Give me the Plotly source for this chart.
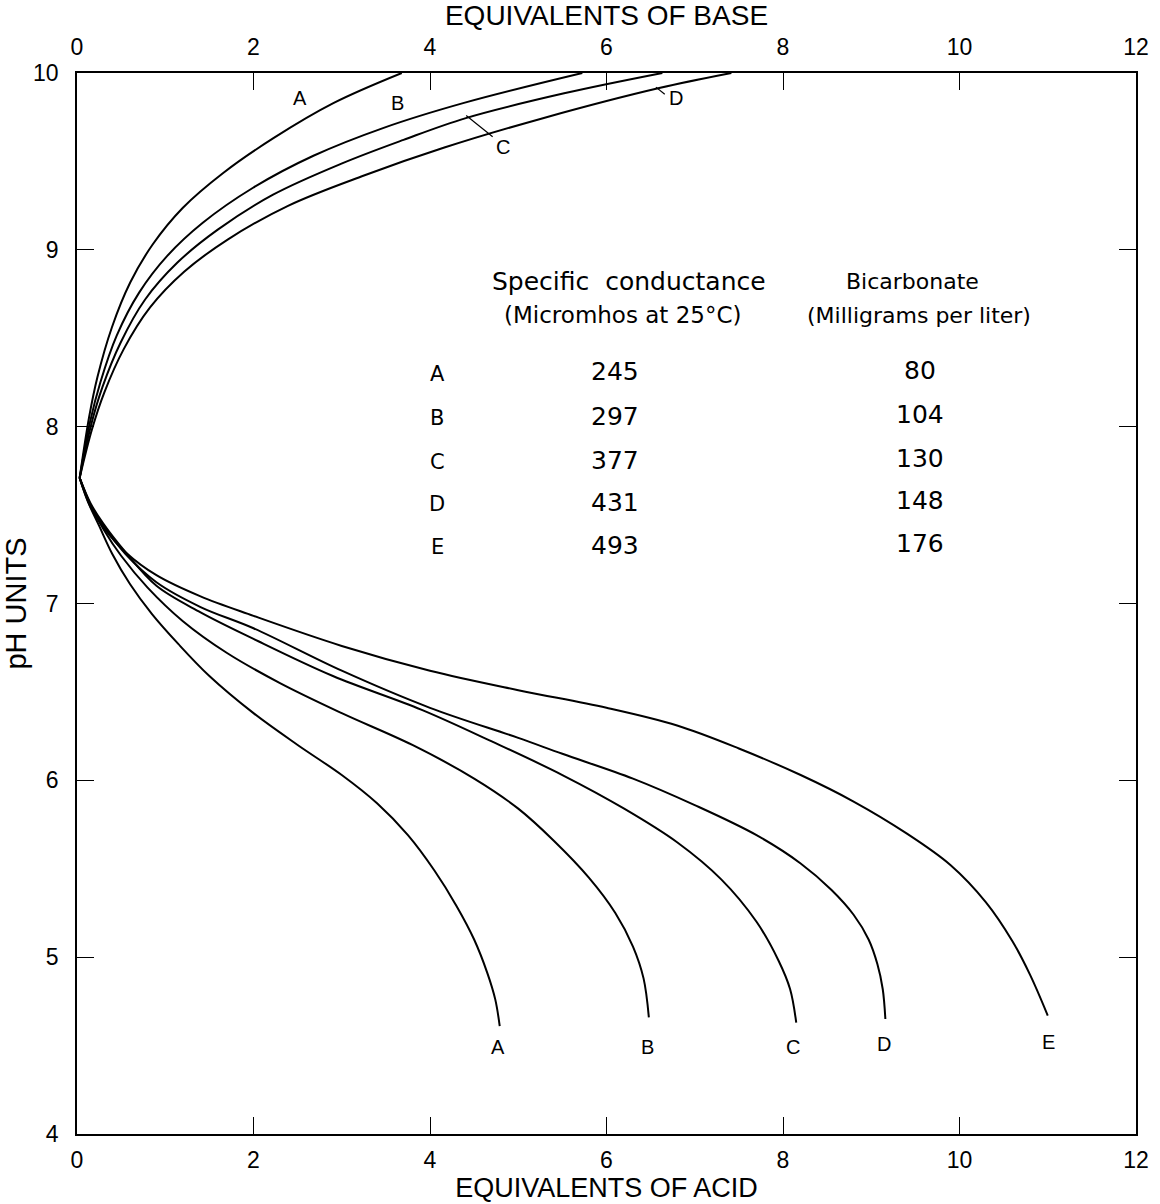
import plotly.graph_objects as go

# ---------------- DATA ----------------
# Upper curves: titration with base (top axis) -- pH vs equivalents of base
base_A_x = [0.03, 0.137, 0.231, 0.395, 0.603, 0.857, 1.20, 1.66, 2.23, 2.91, 3.68]
base_A_ph = [7.71, 8.053, 8.279, 8.561, 8.815, 9.030, 9.238, 9.436, 9.633, 9.831, 10.0]
base_B_x = [0.03, 0.147, 0.265, 0.451, 0.704, 1.025, 1.425, 1.995, 2.679, 3.475, 4.385, 5.726]
base_B_ph = [7.71, 8.025, 8.251, 8.516, 8.758, 8.967, 9.153, 9.351, 9.532, 9.690, 9.831, 10.0]
base_C_x = [0.03, 0.159, 0.287, 0.495, 0.772, 1.138, 1.595, 2.222, 3.018, 3.70, 4.406, 5.52, 6.633]
base_C_ph = [7.71, 8.008, 8.222, 8.476, 8.719, 8.928, 9.114, 9.312, 9.492, 9.622, 9.745, 9.885, 10.0]
base_D_x = [0.03, 0.170, 0.31, 0.528, 0.828, 1.217, 1.707, 2.391, 3.244, 4.154, 5.29, 6.597, 7.415]
base_D_ph = [7.71, 7.985, 8.194, 8.437, 8.674, 8.877, 9.058, 9.249, 9.419, 9.577, 9.746, 9.915, 10.0]

# Lower curves: titration with acid (bottom axis) -- pH vs equivalents of acid
acid_A_x = [0.03, 0.12, 0.25, 0.40, 0.60, 0.85, 1.15, 1.50, 2.00, 2.50, 3.00, 3.40, 3.75, 4.05, 4.30, 4.50, 4.65, 4.74, 4.79]
acid_A_ph = [7.71, 7.58, 7.44, 7.28, 7.11, 6.94, 6.77, 6.59, 6.38, 6.20, 6.03, 5.87, 5.69, 5.49, 5.29, 5.10, 4.91, 4.76, 4.61]
acid_B_x = [0.03, 0.15, 0.30, 0.50, 0.80, 1.20, 1.70, 2.30, 3.00, 3.80, 4.50, 5.00, 5.40, 5.80, 6.10, 6.30, 6.42, 6.48]
acid_B_ph = [7.71, 7.56, 7.42, 7.27, 7.09, 6.90, 6.72, 6.55, 6.38, 6.20, 6.01, 5.84, 5.66, 5.45, 5.25, 5.06, 4.88, 4.66]
acid_C_x = [0.03, 0.15, 0.30, 0.55, 0.90, 1.40, 2.00, 2.90, 3.90, 4.70, 5.50, 6.20, 6.80, 7.30, 7.70, 7.95, 8.08, 8.15]
acid_C_ph = [7.71, 7.57, 7.45, 7.29, 7.10, 6.95, 6.80, 6.59, 6.40, 6.22, 6.03, 5.84, 5.65, 5.44, 5.20, 4.98, 4.82, 4.63]
acid_D_x = [0.03, 0.15, 0.30, 0.55, 0.90, 1.40, 2.00, 3.00, 4.00, 5.00, 5.50, 6.30, 7.00, 7.70, 8.20, 8.55, 8.80, 8.97, 9.07, 9.13, 9.16]
acid_D_ph = [7.71, 7.56, 7.44, 7.28, 7.12, 6.98, 6.86, 6.62, 6.41, 6.24, 6.15, 6.01, 5.86, 5.69, 5.53, 5.38, 5.24, 5.10, 4.96, 4.82, 4.65]
acid_E_x = [0.03, 0.15, 0.30, 0.55, 0.90, 1.40, 2.00, 3.00, 4.00, 5.00, 6.00, 6.80, 7.50, 8.20, 8.80, 9.40, 9.90, 10.30, 10.60, 10.80, 11.00]
acid_E_ph = [7.71, 7.55, 7.43, 7.29, 7.16, 7.04, 6.93, 6.76, 6.62, 6.51, 6.41, 6.31, 6.18, 6.03, 5.88, 5.70, 5.52, 5.31, 5.09, 4.90, 4.67]

# Table
samples = ["A", "B", "C", "D", "E"]
conductance = ["245", "297", "377", "431", "493"]
bicarbonate = ["80", "104", "130", "148", "176"]

tick_vals_x = [0, 2, 4, 6, 8, 10, 12]
tick_vals_y = [4, 5, 6, 7, 8, 9, 10]

# ---------------- FIGURE ----------------
FONT = "Liberation Sans, Arial, sans-serif"
TFONT = "DejaVu Sans, sans-serif"
fig = go.Figure()
line = dict(color="black", width=2, shape="spline", smoothing=1.0)

for name, xs, ys in [("A", base_A_x, base_A_ph), ("B", base_B_x, base_B_ph),
                     ("C", base_C_x, base_C_ph), ("D", base_D_x, base_D_ph)]:
    fig.add_trace(go.Scatter(x=xs, y=ys, mode="lines", line=line, name=name + " (base)",
                             xaxis="x2", yaxis="y", showlegend=False, hoverinfo="skip"))

for name, xs, ys in [("A", acid_A_x, acid_A_ph), ("B", acid_B_x, acid_B_ph),
                     ("C", acid_C_x, acid_C_ph), ("D", acid_D_x, acid_D_ph),
                     ("E", acid_E_x, acid_E_ph)]:
    fig.add_trace(go.Scatter(x=xs, y=ys, mode="lines", line=line, name=name + " (acid)",
                             xaxis="x", yaxis="y", showlegend=False, hoverinfo="skip"))

ann = []
upper_lab = [("A", 2.53, 9.86), ("B", 3.63, 9.83), ("C", 4.83, 9.58), ("D", 6.79, 9.86)]
for t, x, y in upper_lab:
    ann.append(dict(text=t, x=x, y=y, xref="x2", yref="y", showarrow=False,
                    font=dict(family=FONT, size=20, color="black")))
lower_lab = [("A", 4.77, 4.49), ("B", 6.47, 4.49), ("C", 8.11, 4.49), ("D", 9.14, 4.51), ("E", 11.01, 4.52)]
for t, x, y in lower_lab:
    ann.append(dict(text=t, x=x, y=y, xref="x", yref="y", showarrow=False,
                    font=dict(family=FONT, size=20, color="black")))

ann.append(dict(text="Specific  conductance", x=6.25, y=8.82, xref="x", yref="y", showarrow=False,
                font=dict(family=TFONT, size=25, color="black")))
ann.append(dict(text="(Micromhos at 25°C)", x=6.18, y=8.63, xref="x", yref="y", showarrow=False,
                font=dict(family=TFONT, size=23, color="black")))
ann.append(dict(text="Bicarbonate", x=9.47, y=8.82, xref="x", yref="y", showarrow=False,
                font=dict(family=TFONT, size=22, color="black")))
ann.append(dict(text="(Milligrams per liter)", x=9.54, y=8.63, xref="x", yref="y", showarrow=False,
                font=dict(family=TFONT, size=22, color="black")))
row_y = [8.31, 8.06, 7.81, 7.57, 7.33]
for s, c, b, y in zip(samples, conductance, bicarbonate, row_y):
    ann.append(dict(text=s, x=4.08, y=y - 0.01, xref="x", yref="y", showarrow=False,
                    font=dict(family=TFONT, size=21, color="black")))
    ann.append(dict(text=c, x=6.10, y=y, xref="x", yref="y", showarrow=False,
                    font=dict(family=TFONT, size=25, color="black")))
    ann.append(dict(text=b, x=9.55, y=y + 0.01, xref="x", yref="y", showarrow=False,
                    font=dict(family=TFONT, size=25, color="black")))

shapes = [
    dict(type="line", xref="x2", yref="y", x0=4.41, y0=9.76, x1=4.71, y1=9.64,
         line=dict(color="black", width=1.2)),
    dict(type="line", xref="x2", yref="y", x0=6.56, y0=9.92, x1=6.66, y1=9.88,
         line=dict(color="black", width=1.2)),
]

axis_common = dict(range=[0, 12], tickvals=tick_vals_x, ticks="inside", ticklen=17,
                   tickwidth=1.3, tickcolor="black", showline=True, linecolor="black",
                   linewidth=1.5, showgrid=False, zeroline=False,
                   tickfont=dict(family=FONT, size=23, color="black"))

fig.update_layout(
    width=1160, height=1204,
    margin=dict(l=77, r=24, t=73, b=70, autoexpand=False),
    paper_bgcolor="white", plot_bgcolor="white",
    showlegend=False,
    xaxis=dict(**axis_common, side="bottom", anchor="y",
               title=dict(text="EQUIVALENTS OF ACID", font=dict(family=FONT, size=27, color="black"),
                          standoff=5),
               ticklabelstandoff=5, automargin=False),
    xaxis2=dict(**axis_common, side="top", overlaying="x", anchor="y",
                title=dict(text="EQUIVALENTS OF BASE", font=dict(family=FONT, size=28, color="black"),
                           standoff=2),
                ticklabelstandoff=7, automargin=False),
    yaxis=dict(range=[4, 10], tickvals=tick_vals_y, ticks="inside", ticklen=17, tickwidth=1.3,
               tickcolor="black", showline=True, linecolor="black", linewidth=1.5,
               mirror="ticks", showgrid=False, zeroline=False,
               tickfont=dict(family=FONT, size=23, color="black"),
               title=dict(text="pH UNITS", font=dict(family=FONT, size=29, color="black"), standoff=4),
               ticklabelstandoff=12, automargin=False),
    annotations=ann,
    shapes=shapes,
)

fig.write_html("out.html")
